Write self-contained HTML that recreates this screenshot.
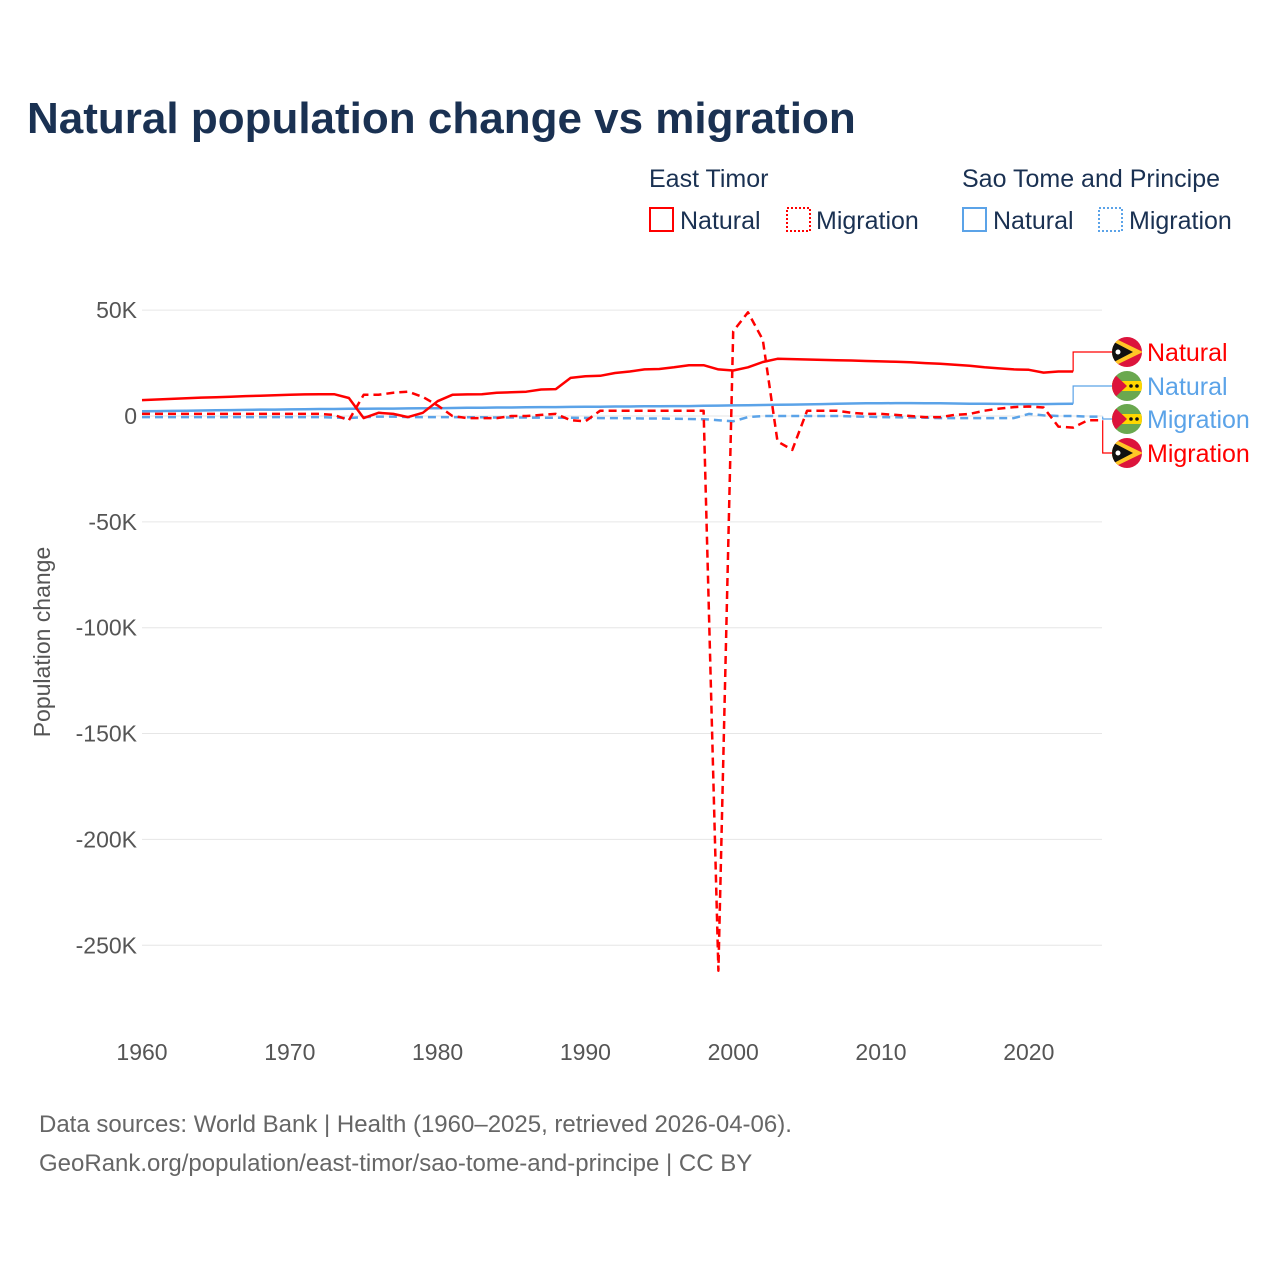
<!DOCTYPE html>
<html><head><meta charset="utf-8"><style>
html,body{margin:0;padding:0;background:#fff;}
body{width:1280px;height:1280px;overflow:hidden;font-family:"Liberation Sans",sans-serif;}
</style></head><body>
<svg id="chart" width="1280" height="1280" xmlns="http://www.w3.org/2000/svg" font-family="Liberation Sans, sans-serif">
<defs id="defs"></defs>
<text x="27" y="133" font-size="44" font-weight="bold" fill="#1a3152">Natural population change vs migration</text>
<g font-size="25" fill="#1a3152">
<text x="649" y="187">East Timor</text>
<text x="962" y="187">Sao Tome and Principe</text>
<g><rect x="650" y="208" width="23" height="23" fill="none" stroke="#f00" stroke-width="2"/><text x="680" y="229">Natural</text></g>
<g><rect x="787" y="208" width="23" height="23" fill="none" stroke="#f00" stroke-width="2" stroke-dasharray="2,2"/><text x="816" y="229">Migration</text></g>
<g><rect x="963" y="208" width="23" height="23" fill="none" stroke="#5ba3e8" stroke-width="2"/><text x="993" y="229">Natural</text></g>
<g><rect x="1099" y="208" width="23" height="23" fill="none" stroke="#5ba3e8" stroke-width="2" stroke-dasharray="2,2"/><text x="1129" y="229">Migration</text></g>
</g>
<g id="grid"></g>
<g id="series"></g>
<g id="labels"></g>
<text transform="translate(50,642) rotate(-90)" text-anchor="middle" font-size="23" fill="#555">Population change</text>
<text x="39" y="1132" font-size="24" fill="#666">Data sources: World Bank | Health (1960–2025, retrieved 2026-04-06).</text>
<text x="39" y="1171" font-size="24" fill="#666">GeoRank.org/population/east-timor/sao-tome-and-principe | CC BY</text>
</svg>
<script>
const yTicks=[50,0,-50,-100,-150,-200,-250];
const yTickLabels=["50K","0","-50K","-100K","-150K","-200K","-250K"];
const xTicks=[1960,1970,1980,1990,2000,2010,2020];
const yearsNat=[];for(let y=1960;y<=2023;y++)yearsNat.push(y);
const yearsMig=[];for(let y=1960;y<=2025;y++)yearsMig.push(y);
const etNatural=[7.5,7.8,8.1,8.4,8.7,8.9,9.1,9.4,9.6,9.8,10.0,10.2,10.3,10.3,8.5,-1.0,1.5,1.0,-0.5,1.5,7.0,10.0,10.2,10.3,11.0,11.2,11.5,12.5,12.7,18.0,18.8,19.0,20.3,21.0,22.0,22.2,23.0,24.0,24.0,22.0,21.5,23.0,25.5,27.0,26.9,26.7,26.5,26.3,26.2,26.0,25.8,25.6,25.4,25.0,24.7,24.2,23.7,23.0,22.5,22.0,21.8,20.5,21.0,21.0];
const etMigration=[1,1,1,1,1,1,1,1,1,1,1,1,1,0.5,-2,10,10,11,11.5,9,5,0,-1,-1,-1,0,0,0.5,1,-2,-2.5,2.5,2.5,2.5,2.5,2.5,2.5,2.5,2.5,-262,40,49,36,-12,-16,2.5,2.5,2.5,1.5,1,1,0.5,0,-0.5,-0.5,0.5,1,2.5,3.5,4.2,4.5,4,-5,-5.5,-2,-2];
const stpNatural=[2.2,2.3,2.4,2.5,2.6,2.7,2.8,2.9,3.0,3.0,3.1,3.2,3.3,3.3,3.4,3.4,3.5,3.5,3.6,3.7,3.7,3.8,3.9,3.9,4.0,4.0,4.1,4.2,4.2,4.3,4.4,4.4,4.5,4.5,4.6,4.6,4.7,4.7,4.8,4.9,5.0,5.1,5.2,5.3,5.4,5.5,5.6,5.8,5.9,6.0,6.0,6.1,6.1,6.0,6.0,5.9,5.8,5.8,5.7,5.6,5.6,5.6,5.7,5.8];
const stpMigration=[-0.5,-0.5,-0.5,-0.5,-0.5,-0.5,-0.5,-0.5,-0.5,-0.5,-0.5,-0.5,-0.5,-0.7,-1,-0.5,-0.3,-0.3,-0.5,-0.5,-0.5,-0.5,-0.6,-0.6,-0.7,-0.7,-0.7,-0.8,-0.8,-0.8,-0.9,-1,-1,-1.1,-1.2,-1.2,-1.3,-1.4,-1.5,-2,-2.5,-0.5,0,0,0,0,0,0,-0.2,-0.3,-0.5,-0.6,-0.7,-0.8,-1,-1,-1,-1,-1,-1,1,0.3,0,0,-0.3,-0.3];
const NS='http://www.w3.org/2000/svg';
const X=y=>142+(y-1960)*14.78;
const Y=v=>416-v*2.117;
const grid=document.getElementById('grid'),series=document.getElementById('series'),labels=document.getElementById('labels'),defs=document.getElementById('defs');
function mk(tag,attrs,parent){const e=document.createElementNS(NS,tag);for(const k in attrs)e.setAttribute(k,attrs[k]);parent.appendChild(e);return e;}
yTicks.forEach((t,i)=>{
 const l=mk('line',{x1:142,x2:1102,y1:Y(t),y2:Y(t),stroke:'#e6e6e6','stroke-width':1},grid);
 
 
 const tx=mk('text',{x:137,y:Y(t)+8,'text-anchor':'end','font-size':23,fill:'#555'},grid);
 tx.textContent=yTickLabels[i];
 
 
});
xTicks.forEach(t=>{
 const tx=mk('text',{x:X(t),y:1060,'text-anchor':'middle','font-size':23,fill:'#555'},grid);
 tx.textContent=t;
 
 
});
function line(years,vals,color,dash,name){
 const d=vals.map((v,i)=>(i?'L':'M')+X(years[i]).toFixed(1)+','+Y(v).toFixed(1)).join('');
 const p=mk('path',{d:d,fill:'none',stroke:color,'stroke-width':2.5,'stroke-dasharray':dash,'stroke-linejoin':'round'},series);
 
 
}
line(yearsMig,stpMigration,'#5ba3e8','8,5','line-stp-migration');
line(yearsNat,stpNatural,'#5ba3e8','none','line-stp-natural');
line(yearsMig,etMigration,'#f00','8,5','line-et-migration');
line(yearsNat,etNatural,'#f00','none','line-et-natural');
let cid=0;
function endLabel(years,vals,ly,color,txt,flag,name){
 const ex=X(years[years.length-1]),ey=Y(vals[vals.length-1]);
 const bx=Math.max(1073,ex);
 const c=mk('path',{d:`M${ex},${ey}H${bx}V${ly}H1112`,fill:'none',stroke:color,'stroke-width':1.2},labels);
 
 
 const id='clip'+(cid++);
 const cp=mk('clipPath',{id:id},defs);
 mk('circle',{cx:1127,cy:ly,r:15},cp);
 const g=mk('g',{'clip-path':`url(#${id})`},labels);
 
 
 if(flag==='et'){
  mk('rect',{x:1110,y:ly-16,width:34,height:32,fill:'#dc143c'},g);
  mk('path',{d:`M1110,${ly-16}L1143,${ly}L1110,${ly+16}Z`,fill:'#ffc726'},g);
  mk('path',{d:`M1110,${ly-12}L1133,${ly}L1110,${ly+12}Z`,fill:'#111'},g);
  mk('circle',{cx:1118,cy:ly,r:2.5,fill:'#fff'},g);
 }else{
  mk('rect',{x:1110,y:ly-16,width:34,height:32,fill:'#6aa84f'},g);
  mk('rect',{x:1110,y:ly-5,width:34,height:10,fill:'#ffd700'},g);
  mk('path',{d:`M1110,${ly-16}L1127,${ly}L1110,${ly+16}Z`,fill:'#dc143c'},g);
  mk('circle',{cx:1131,cy:ly,r:1.8,fill:'#111'},g);
  mk('circle',{cx:1137,cy:ly,r:1.8,fill:'#111'},g);
 }
 const t=mk('text',{x:1147,y:ly+9,'font-size':25,fill:color},labels);
 t.textContent=txt;
 
 
}
endLabel(yearsNat,etNatural,352,'#f00','Natural','et','end-et-natural');
endLabel(yearsNat,stpNatural,386,'#5ba3e8','Natural','stp','end-stp-natural');
endLabel(yearsMig,stpMigration,419,'#5ba3e8','Migration','stp','end-stp-migration');
endLabel(yearsMig,etMigration,453,'#f00','Migration','et','end-et-migration');
</script>
</body></html>
